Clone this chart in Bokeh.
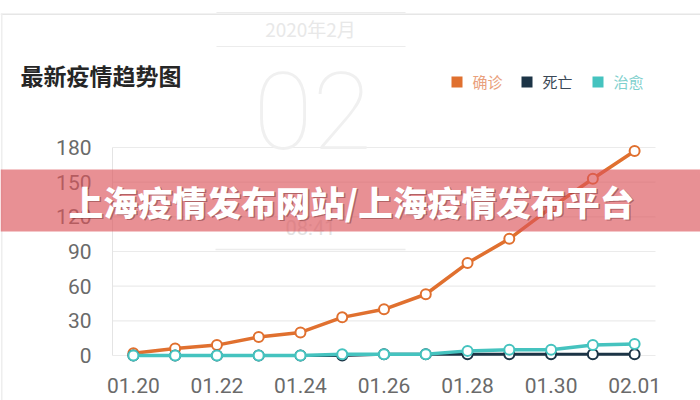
from bokeh.plotting import figure
from bokeh.models import FixedTicker, Label, BoxAnnotation
from bokeh.embed import file_html
from bokeh.resources import INLINE

# ---- data ----
dates = ["01.20", "01.21", "01.22", "01.23", "01.24", "01.25", "01.26",
         "01.27", "01.28", "01.29", "01.30", "01.31", "02.01"]
confirmed = [2, 6, 9, 16, 20, 33, 40, 53, 80, 101, 128, 153, 177]
deaths = [0, 0, 0, 0, 0, 0, 1, 1, 1, 1, 1, 1, 1]
healed = [0, 0, 0, 0, 0, 1, 1, 1, 4, 5, 5, 9, 10]
y_ticks = [0, 30, 60, 90, 120, 150, 180]
legend_names = ["确诊", "死亡", "治愈"]
title_text = "最新疫情趋势图"
banner_text = "上海疫情发布网站/上海疫情发布平台"

C_CONF = "#e0702f"
C_DEATH = "#1c3446"
C_HEAL = "#45c3bf"

W, H = 700, 400
# plot area geometry in picture pixels
FL, FR, FT, FB = 112, 655, 147, 355
XA, XB = -0.5, len(dates) - 0.5          # data x at FL / FR
YA, YB = y_ticks[-1], y_ticks[0]         # data y at FT / FB
kx = (XB - XA) / (FR - FL)
ky = (YA - YB) / (FB - FT)
X0, X1 = XA - FL * kx, XA + (W - FL) * kx
Y1, Y0 = YA + FT * ky, YA - (H - FT) * ky


def xd(rx):
    return XA + (rx - FL) * kx


def yd(ry):
    return YA - (ry - FT) * ky


p = figure(width=W, height=H, min_border=0,
           x_range=(X0, X1), y_range=(Y0, Y1),
           output_backend="svg", toolbar_location=None,
           background_fill_color="white", border_fill_color="white")
p.outline_line_color = None
p.xgrid.grid_line_color = None
p.ygrid.grid_line_color = None

xs = list(range(len(dates)))

# horizontal grid lines at the y ticks, across the plot area
p.segment(x0=[XA] * len(y_ticks), x1=[XB] * len(y_ticks), y0=y_ticks, y1=y_ticks,
          line_color="#ebebeb", line_width=1.2)

p.xaxis.fixed_location = yd(364)
p.xaxis.ticker = FixedTicker(ticks=xs[::2])
p.xaxis.major_label_overrides = {i: dates[i] for i in xs[::2]}
p.xaxis.axis_line_color = None
p.xaxis.major_tick_line_color = None
p.xaxis.minor_tick_line_color = None
p.xaxis.major_label_standoff = 7
p.xaxis.major_label_text_font_size = "21px"
p.xaxis.major_label_text_color = "#6a6a6a"
p.xaxis.major_label_text_font = "Roboto"

p.yaxis.fixed_location = XA
p.yaxis.bounds = (y_ticks[0], y_ticks[-1])
p.yaxis.ticker = FixedTicker(ticks=y_ticks)
p.yaxis.axis_line_color = "#e4e4e4"
p.yaxis.major_tick_line_color = None
p.yaxis.minor_tick_line_color = None
p.yaxis.major_label_standoff = 15
p.yaxis.major_label_text_font_size = "21px"
p.yaxis.major_label_text_color = "#6a6a6a"
p.yaxis.major_label_text_font = "Roboto"

# ---- series ----
for ys, col, w in [(confirmed, C_CONF, 3.5), (deaths, C_DEATH, 3), (healed, C_HEAL, 3.5)]:
    p.line(xs, ys, line_color=col, line_width=w)
    p.scatter(xs, ys, size=10, marker="circle", fill_color="white",
              line_color=col, line_width=2)


def box(l, r, t, b, color, alpha=1.0):
    p.add_layout(BoxAnnotation(left=xd(l), right=xd(r), top=yd(t), bottom=yd(b),
                               fill_color=color, fill_alpha=alpha, line_color=None,
                               level="overlay"))


def label(x, y, text, size, color, align="center", font="Noto Sans CJK SC",
          style="normal", alpha=1.0):
    p.add_layout(Label(x=xd(x), y=yd(y), text=text, text_align=align,
                       text_baseline="middle", text_font_size=size,
                       text_font=font, text_font_style=style,
                       text_color=color, text_alpha=alpha, level="overlay"))


# ---- card edges ----
box(0, 700, 13, 14.5, "#e6e6e6")
box(0.5, 2, 13, 400, "#eeeeee")

# ---- faint date watermark ----
for ry in (12, 46):
    box(216, 405, ry - 0.6, ry + 0.6, "#ececec")
label(310, 28, "2020年2月", "19px", "#e8e8e8")
label(312, 110, "02", "108px", "#f0f0f0", font="Roboto Thin, Roboto Light, Roboto")
label(310, 227, "08:41", "20px", "#e2e2e2", font="Roboto")
box(215, 405, 248.3, 249.7, "#ececec")

# ---- title ----
label(20, 74, title_text, "23px", "#262626", align="left", style="bold")

# ---- legend ----
leg_sq = [451, 521, 592]
leg_txt = [472, 542, 613]
leg_txt_col = ["#e9a07c", "#3b4856", "#7ed0cd"]
for name, col, tcol, sx, tx in zip(legend_names, [C_CONF, C_DEATH, C_HEAL], leg_txt_col, leg_sq, leg_txt):
    box(sx, sx + 11, 76, 87, col)
    label(tx, 81, name, "15px", tcol, align="left")

# ---- banner ----
BANNER_FONT = "Noto Sans CJK SC Black, Noto Sans CJK SC"
box(0, 700, 169, 231, "#dc555a", 0.65)
label(352.5, 201.5, banner_text, "34.5px", "#6b2a2a", font=BANNER_FONT, style="bold", alpha=0.45)
label(351, 200, banner_text, "34.5px", "white", font=BANNER_FONT, style="bold")

open("out.html", "w").write(file_html(p, INLINE))
